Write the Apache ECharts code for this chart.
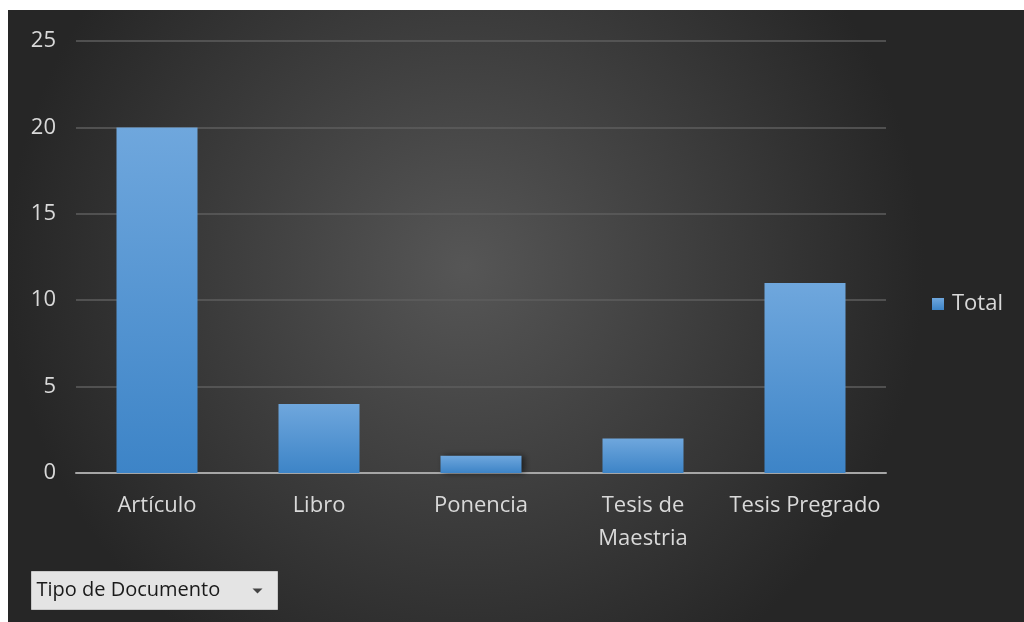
<!DOCTYPE html>
<html>
<head>
<meta charset="utf-8">
<script src="https://cdn.jsdelivr.net/npm/echarts@6/dist/echarts.min.js"></script>
<style>
  html, body { margin: 0; padding: 0; background: #ffffff; }
  #chart {
    position: absolute;
    left: 8px;
    top: 10px;
    width: 1016px;
    height: 612px;
  }
</style>
</head>
<body>
<div id="chart"></div>
<script>
// datos
const categories = ['Artículo', 'Libro', 'Ponencia', 'Tesis de Maestria', 'Tesis Pregrado']
const totals = [20, 4, 1, 2, 11]
const seriesName = 'Total'
const filterLabel = 'Tipo de Documento'

const chart = echarts.init(document.getElementById('chart'))

const option = {
  backgroundColor: new echarts.graphic.RadialGradient(0.45, 0.42, 0.75, [
    { offset: 0, color: '#565656' },
    { offset: 1, color: '#262626' }
  ]),
  textStyle: { fontFamily: '"Open Sans", "Noto Sans", sans-serif' },
  grid: { left: 68, right: 138, top: 31, bottom: 149 },
  legend: {
    data: [seriesName],
    left: 919,
    top: 278,
    icon: 'rect',
    itemWidth: 12,
    itemHeight: 12,
    itemGap: 4,
    textStyle: { color: '#d9d9d9', fontSize: 22, padding: [0, 0, 0, 3] }
  },
  xAxis: {
    type: 'category',
    data: categories,
    axisLine: { lineStyle: { color: '#a6a6a6', width: 2 } },
    axisTick: { show: false },
    axisLabel: {
      interval: 0,
      hideOverlap: false,
      color: '#d9d9d9',
      fontSize: 22,
      lineHeight: 33,
      margin: 16,
      formatter: v => v.replace(' de ', ' de\n')
    }
  },
  yAxis: {
    type: 'value',
    min: 0,
    max: 25,
    interval: 5,
    axisLine: { show: false },
    axisTick: { show: false },
    splitLine: { lineStyle: { color: '#5e5e5e', width: 1.5 } },
    axisLabel: { color: '#d9d9d9', fontSize: 22, margin: 20 }
  },
  series: [{
    name: seriesName,
    type: 'bar',
    data: totals,
    barWidth: '50%',
    itemStyle: {
      color: new echarts.graphic.LinearGradient(0, 0, 0, 1, [
        { offset: 0, color: '#6fa7dd' },
        { offset: 1, color: '#3d84c7' }
      ]),
      shadowColor: 'rgba(0, 0, 0, 0.55)',
      shadowBlur: 6,
      shadowOffsetX: 3
    }
  }],
  graphic: [{
    type: 'group',
    left: 23,
    top: 561,
    children: [
      {
        type: 'rect',
        shape: { x: 0, y: 0, width: 246, height: 38 },
        style: { fill: '#e4e4e4', stroke: '#c8c8c8', lineWidth: 1 }
      },
      {
        type: 'text',
        x: 5,
        y: 19,
        style: {
          text: filterLabel,
          fill: '#1a1a1a',
          font: '20px "Open Sans", "Noto Sans", sans-serif',
          verticalAlign: 'middle'
        }
      },
      {
        type: 'polygon',
        shape: { points: [[221, 17], [231, 17], [226, 22]] },
        style: { fill: '#444444' }
      }
    ]
  }]
}

chart.setOption(option)
</script>
</body>
</html>
